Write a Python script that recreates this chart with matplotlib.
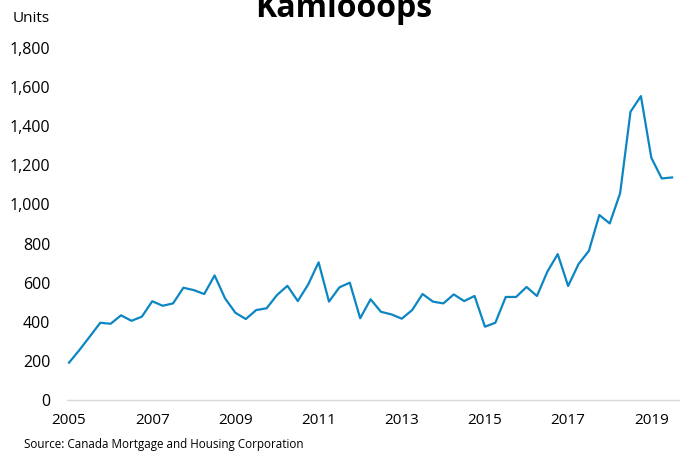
import numpy as np
import matplotlib.pyplot as plt
from matplotlib.ticker import FuncFormatter

plt.rcParams['font.family'] = ['Open Sans', 'DejaVu Sans']

# Quarterly housing starts, 2005 Q1 to 2019 Q3
start_year = 2005
units = [191, 256, 325, 395, 390, 433, 405, 426,
         505, 482, 494, 574, 562, 542, 637, 520,
         446, 414, 460, 469, 537, 584, 506, 591,
         704, 503, 576, 600, 418, 515, 451, 438,
         416, 460, 542, 503, 494, 540, 506, 532,
         375, 395, 527, 527, 578, 532, 656, 746,
         583, 695, 763, 946, 903, 1057, 1474, 1554,
         1239, 1133, 1138]
year_ticks = [2005, 2007, 2009, 2011, 2013, 2015, 2017, 2019]
y_ticks = [0, 200, 400, 600, 800, 1000, 1200, 1400, 1600, 1800]

x = start_year + np.arange(len(units)) / 4.0

fig = plt.figure(figsize=(6.8, 4.54), dpi=100)
ax = fig.add_axes([0.0985, 0.1189, 0.9015, 0.7754])

ax.plot(x, units, color='#0c86c3', linewidth=1.6, clip_on=False)

ax.set_xlim(2004.95, 2019.69)
ax.set_ylim(0, 1800)
ax.set_xticks(year_ticks)
ax.set_yticks(y_ticks)
ax.yaxis.set_major_formatter(FuncFormatter(lambda v, p: f'{int(v):,}'))
ax.tick_params(axis='both', length=0, labelsize=11, colors='#000000')
ax.tick_params(axis='y', pad=12, labelsize=11.5)
ax.tick_params(axis='x', pad=9.5)

for side in ['top', 'right', 'left']:
    ax.spines[side].set_visible(False)
ax.spines['bottom'].set_color('#d9d9d9')
ax.spines['bottom'].set_linewidth(1.0)

fig.text(0.505, 0.962, 'Kamlooops', ha='center', va='baseline',
         fontsize=23, fontweight='bold')
fig.text(0.019, 0.96, 'Units', ha='left', va='center', fontsize=11)
fig.text(0.036, 0.02, 'Source: Canada Mortgage and Housing Corporation',
         ha='left', va='center', fontsize=8.4)

fig.savefig('out.png', dpi=100)
